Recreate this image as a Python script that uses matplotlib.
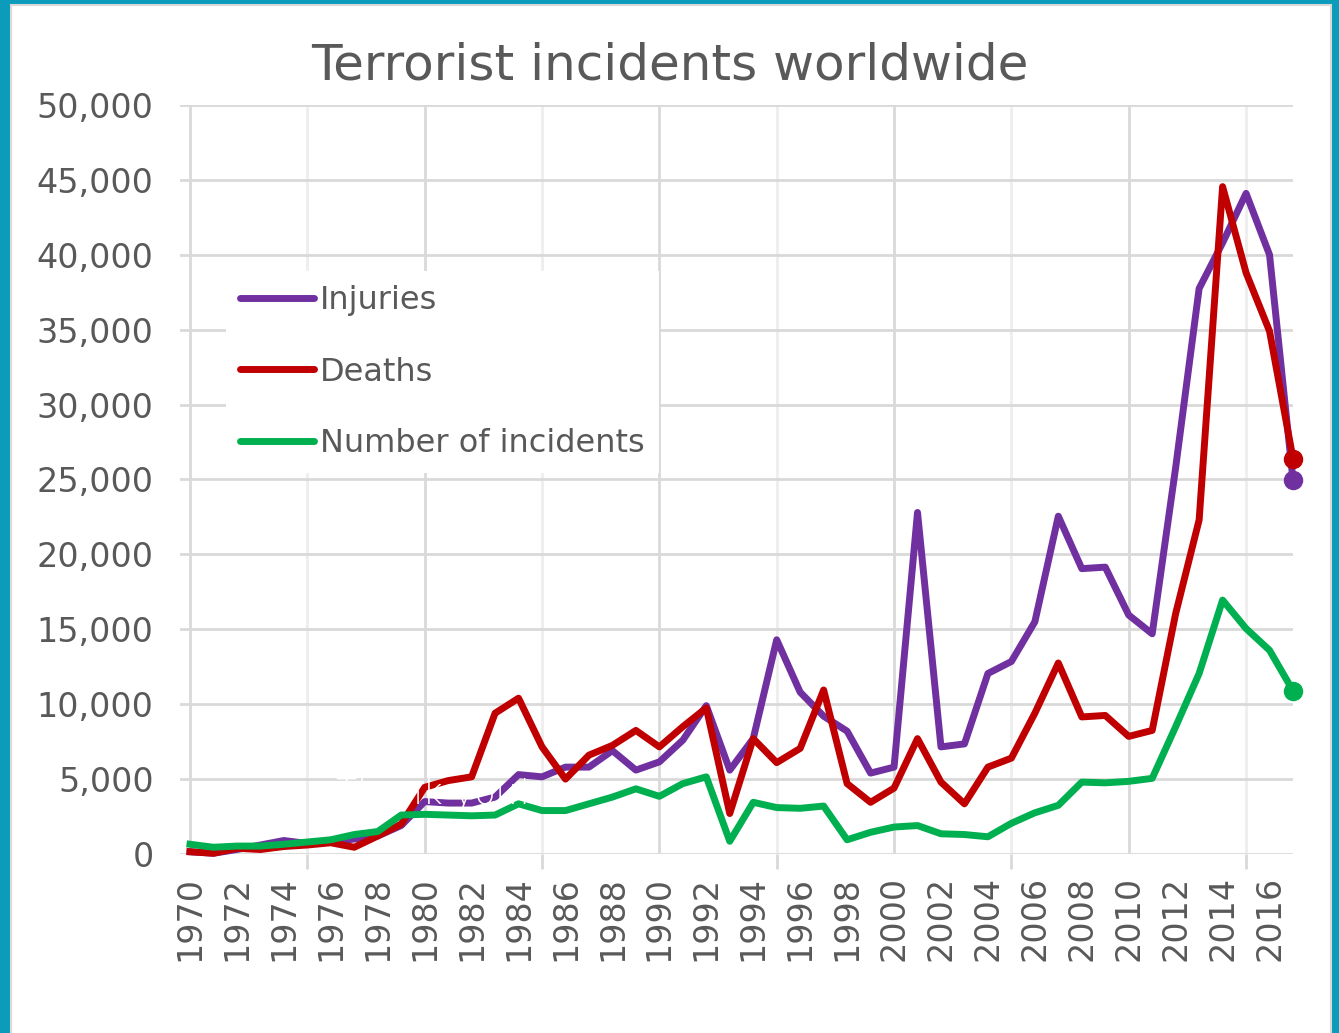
import matplotlib
matplotlib.use("Agg")
import matplotlib.pyplot as plt
from matplotlib.patches import Rectangle
from matplotlib.ticker import FuncFormatter

# yearly values, 1970-2017
years = list(range(1970, 2018))
injuries = [150, 50, 300, 600, 900, 700, 800, 1000, 1200, 1900,
            3500, 3400, 3400, 3800, 5300, 5150, 5800, 5800, 6900, 5600,
            6150, 7600, 9900, 5600, 7700, 14300, 10800, 9200, 8200, 5400,
            5800, 22800, 7150, 7350, 12050, 12850, 15500, 22550, 19050, 19150,
            15950, 14700, 25800, 37750, 40800, 44100, 40000, 24950]
deaths = [150, 50, 380, 300, 500, 600, 750, 450, 1200, 2000,
          4450, 4900, 5150, 9400, 10400, 7150, 5000, 6600, 7250, 8250,
          7150, 8500, 9750, 2700, 7700, 6100, 7050, 10950, 4700, 3450,
          4400, 7700, 4800, 3350, 5800, 6400, 9400, 12750, 9150, 9250,
          7850, 8250, 16050, 22300, 44550, 38800, 34900, 26400]
incidents = [650, 450, 530, 530, 650, 800, 950, 1300, 1500, 2600,
             2650, 2600, 2550, 2600, 3350, 2900, 2900, 3350, 3800, 4350,
             3850, 4700, 5150, 850, 3450, 3100, 3050, 3200, 950, 1450,
             1800, 1900, 1350, 1300, 1150, 2050, 2750, 3250, 4800, 4750,
             4850, 5050, 8500, 12050, 16950, 15050, 13600, 10900]

series_names = ["Injuries", "Deaths", "Number of incidents"]
series_colors = ["#7030A0", "#C00000", "#00B050"]
label_years = list(range(1970, 2017, 2))
grid_years = list(range(1970, 2016, 5))
y_ticks = list(range(0, 50001, 5000))

W, H = 1339, 1033
txt = "#595959"
plt.rcParams['font.family'] = ['DejaVu Sans']

fig = plt.figure(figsize=(W / 100, H / 100), dpi=100)
fig.patch.set_facecolor("#0A9CBA")
# white card with thin grey rim inside the cyan frame
fig.add_artist(Rectangle((11 / W, -0.02), (1331 - 11) / W, (1033 - 5) / H + 0.02,
                         transform=fig.transFigure, fc="white", ec="#D9D9D9", lw=1.5, zorder=0))

ax = fig.add_axes([180 / W, (H - 854) / H, (1293 - 180) / W, (854 - 105) / H])
ax.set_facecolor("none")

for vals, name, col in zip([injuries, deaths, incidents], series_names, series_colors):
    ax.plot(years, vals, color=col, lw=5, label=name, marker="o", markersize=13,
            markevery=[len(vals) - 1], solid_joinstyle="round", clip_on=False, zorder=3)

ax.set_xlim(1970 - 10 / 23.47, 2017)
ax.set_ylim(0, 50000)

for s in ax.spines.values():
    s.set_visible(False)

ax.set_yticks(y_ticks)
ax.yaxis.set_major_formatter(FuncFormatter(lambda v, p: f"{v:,.0f}"))
ax.yaxis.grid(True, color="#D9D9D9", lw=2)
ax.tick_params(axis="y", length=0, pad=19, labelsize=24, labelcolor=txt)

ax.set_xticks(label_years)
ax.set_xticklabels([str(y) for y in label_years], rotation=90)
ax.tick_params(axis="x", which="major", length=0, pad=16, labelsize=24, labelcolor=txt)
ax.set_xticks(grid_years, minor=True)
ax.tick_params(axis="x", which="minor", length=11, width=2, color="#D9D9D9")
for yr in grid_years:
    ax.axvline(yr, color="#D9D9D9" if yr % 10 == 0 else "#EEEEEE", lw=2, zorder=0)
ax.set_axisbelow(True)

leg = ax.legend(loc="upper left", bbox_to_anchor=(226 / W, 1 - 271 / H),
                bbox_transform=fig.transFigure, borderaxespad=0, frameon=True,
                fontsize=23, handlelength=2.3, handletextpad=0.2,
                labelspacing=1.26, borderpad=0.45, fancybox=False)
leg.get_frame().set_facecolor("white")
leg.get_frame().set_edgecolor("none")
leg.get_frame().set_alpha(1)
for t in leg.get_texts():
    t.set_color(txt)
for h in leg.legend_handles:
    h.set_marker("")
    h.set_solid_capstyle("round")

fig.text(0.5, 1 - 80 / H, "Terrorist incidents worldwide", ha="center", va="baseline",
         fontsize=36, color=txt)

# faint white overlay text that crosses the lines
ax.text(1976.2, 4000, "Thank you!", color="white", fontsize=25, va="center",
        fontweight="light", zorder=5)

fig.savefig("out.png", dpi=100, facecolor=fig.get_facecolor())
